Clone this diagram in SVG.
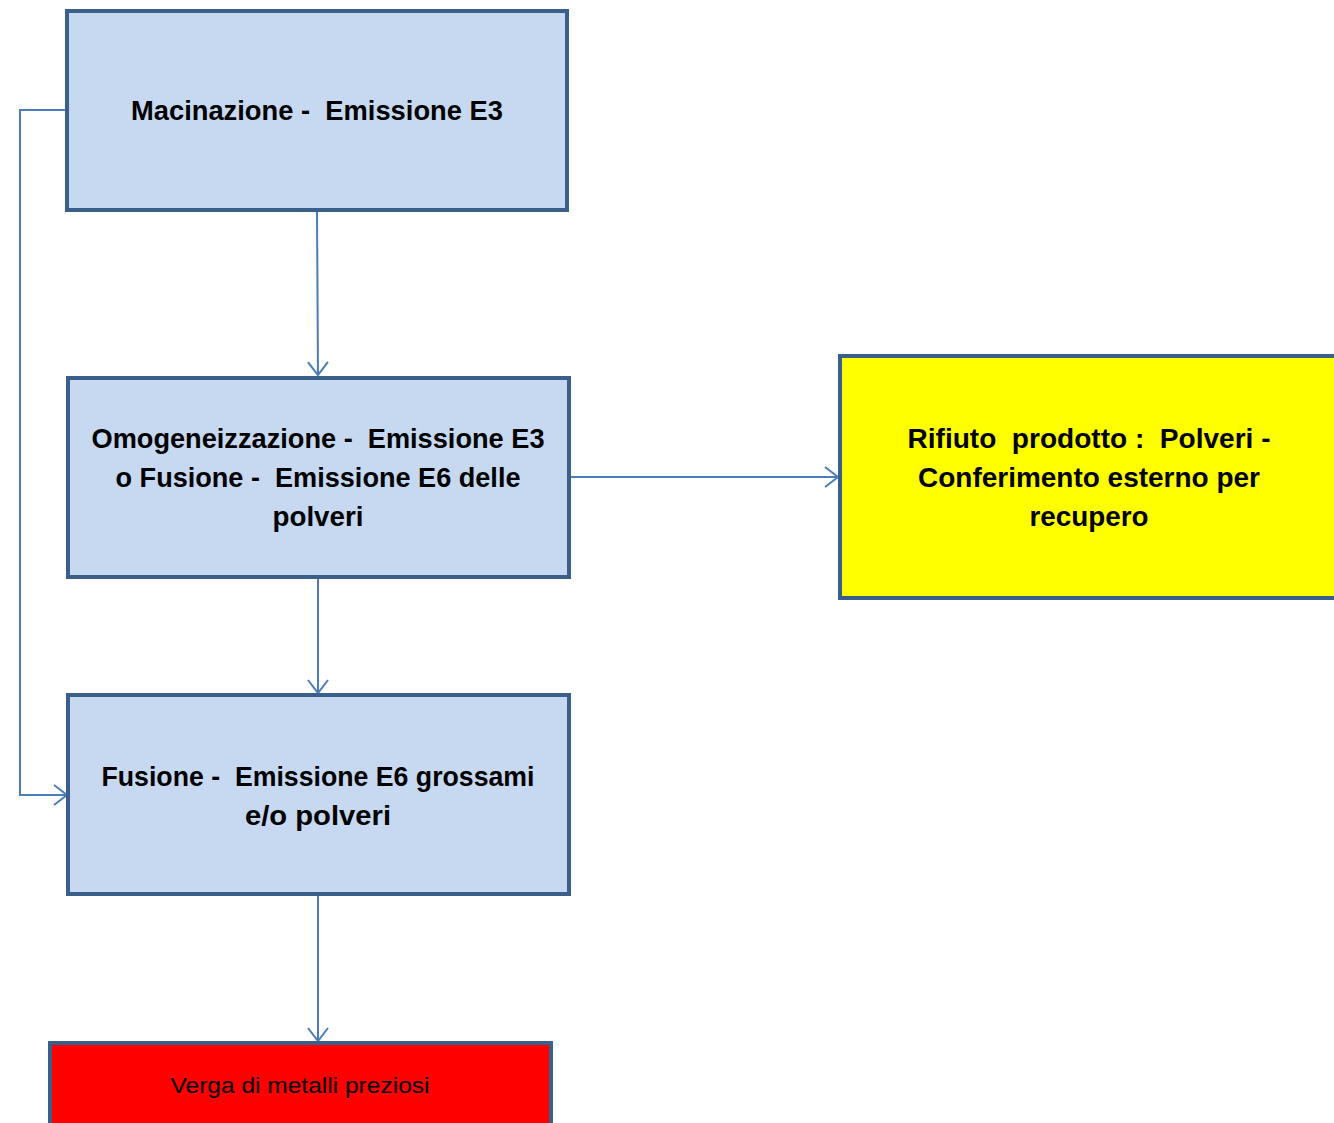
<svg xmlns="http://www.w3.org/2000/svg" width="1334" height="1123" viewBox="0 0 1334 1123" xml:space="preserve">
<style>
.box{stroke:#3A5F8B;stroke-width:4}
.blue{fill:#C6D9F1}
text{white-space:pre}
.t{font-family:"Liberation Sans",Arial,sans-serif;font-weight:bold;font-size:27px;fill:#000;text-anchor:middle}
.r{font-family:"Liberation Sans",Arial,sans-serif;font-size:22px;fill:#000;text-anchor:middle}
.c{fill:none;stroke:#4A7EBB;stroke-width:2}
</style>
<defs>
<marker id="ah" markerUnits="userSpaceOnUse" markerWidth="24" markerHeight="24" refX="16" refY="12" orient="auto" viewBox="0 0 24 24">
<path d="M3,2 L16,12 L3,22" fill="none" stroke="#4A7EBB" stroke-width="2"/>
</marker>
</defs>
<rect width="1334" height="1123" fill="#fff"/>
<g id="connectors">
<path class="c" d="M317,211 L318,375" marker-end="url(#ah)"/>
<path class="c" d="M570,477 L838,477" marker-end="url(#ah)"/>
<path class="c" d="M318,578 L318,693" marker-end="url(#ah)"/>
<path class="c" d="M318,895 L318,1041" marker-end="url(#ah)"/>
<path class="c" d="M66,110 L20,110 L20,795 L67,795" marker-end="url(#ah)"/>
</g>
<g id="n1">
<rect class="box blue" x="67" y="11" width="500" height="199"/>
<text class="t" x="317" y="120" textLength="372" lengthAdjust="spacingAndGlyphs">Macinazione -  Emissione E3</text>
</g>
<g id="n2">
<rect class="box blue" x="68" y="378" width="501" height="199"/>
<text class="t" x="318" y="448" textLength="453" lengthAdjust="spacingAndGlyphs">Omogeneizzazione -  Emissione E3</text>
<text class="t" x="318" y="487" textLength="405" lengthAdjust="spacingAndGlyphs">o Fusione -  Emissione E6 delle</text>
<text class="t" x="318" y="526" textLength="91" lengthAdjust="spacingAndGlyphs">polveri</text>
</g>
<g id="n3">
<rect class="box blue" x="68" y="695" width="501" height="199"/>
<text class="t" x="318" y="786" textLength="433" lengthAdjust="spacingAndGlyphs">Fusione -  Emissione E6 grossami</text>
<text class="t" x="318" y="825" textLength="146" lengthAdjust="spacingAndGlyphs">e/o polveri</text>
</g>
<g id="n4">
<rect class="box" fill="#FFFF00" x="840" y="356" width="500" height="242"/>
<text class="t" x="1089" y="448" textLength="363" lengthAdjust="spacingAndGlyphs">Rifiuto  prodotto :  Polveri -</text>
<text class="t" x="1089" y="487" textLength="342" lengthAdjust="spacingAndGlyphs">Conferimento esterno per</text>
<text class="t" x="1089" y="526" textLength="119" lengthAdjust="spacingAndGlyphs">recupero</text>
</g>
<g id="n5">
<rect class="box" fill="#FF0000" x="50" y="1043" width="501" height="100"/>
<text class="r" x="300" y="1093" textLength="259" lengthAdjust="spacingAndGlyphs">Verga di metalli preziosi</text>
</g>
</svg>
